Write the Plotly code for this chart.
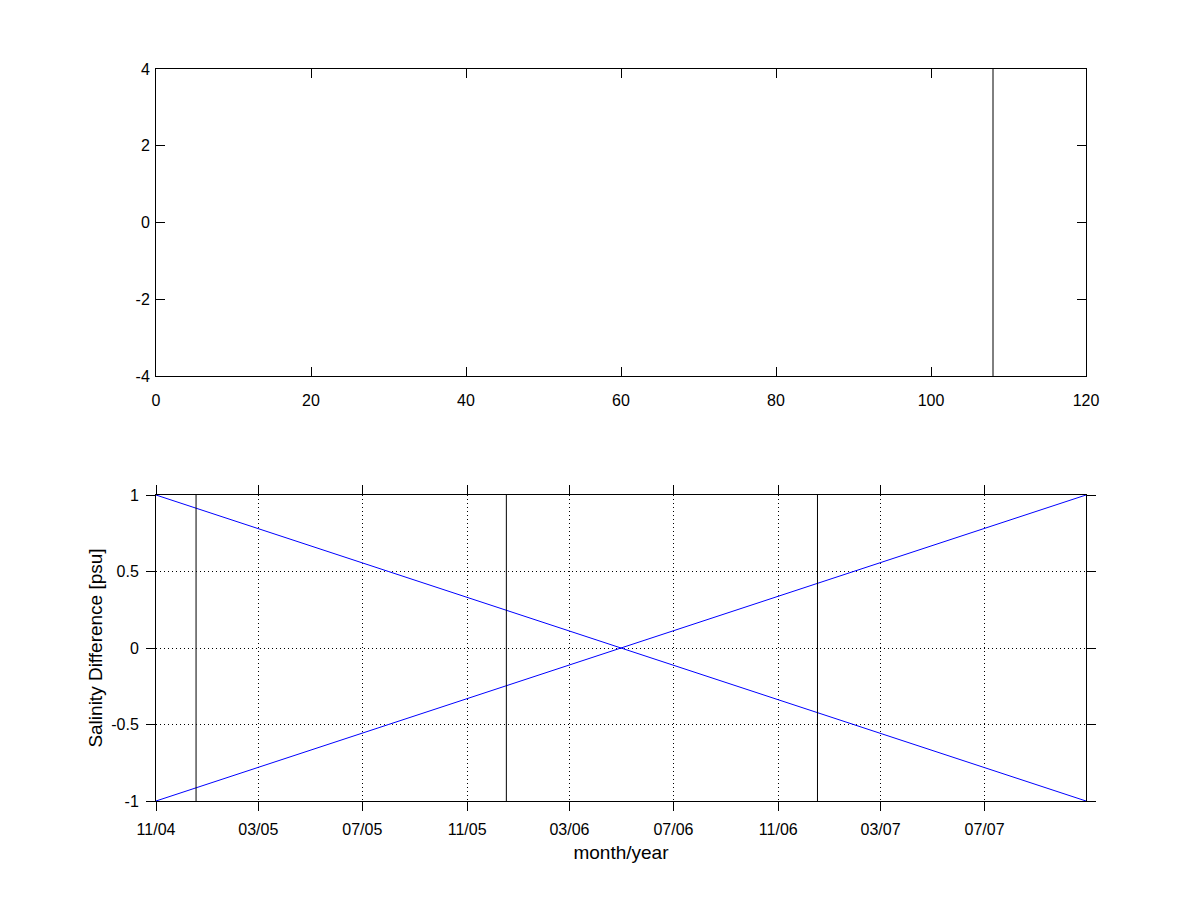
import plotly.graph_objects as go

# Top panel data
top_vline_x = [108, 108]
top_vline_y = [-4, 4]
top_xticks = [0, 20, 40, 60, 80, 100, 120]
top_yticks = [-4, -2, 0, 2, 4]
top_ytext = ["-4", "-2", "0", "2", "4"]

# Bottom panel data
dates_range = ["2004-11-01", "2007-10-28"]
line_down = [1, -1]
line_up = [-1, 1]
vline_dates = ["2004-12-18", "2005-12-17", "2006-12-17"]
vline_y = [-1, 1]

tick_dates = ["2004-11-01", "2005-03-01", "2005-07-01", "2005-11-01", "2006-03-01",
              "2006-07-01", "2006-11-01", "2007-03-01", "2007-07-01"]
tick_labels = ["11/04", "03/05", "07/05", "11/05", "03/06", "07/06", "11/06", "03/07", "07/07"]
bot_yticks = [-1, -0.5, 0, 0.5, 1]
bot_ytext = ["-1", "-0.5", "0", "0.5", "1"]

font = dict(family="Liberation Sans, Arial, sans-serif", size=16, color="black")
title_font = dict(family="Liberation Sans, Arial, sans-serif", size=19, color="black")

fig = go.Figure()

# top panel
fig.add_trace(go.Scatter(x=top_vline_x, y=top_vline_y, mode="lines",
                         line=dict(color="black", width=1), xaxis="x", yaxis="y",
                         showlegend=False, hoverinfo="skip"))

# bottom panel
fig.add_trace(go.Scatter(x=dates_range, y=line_down, mode="lines",
                         line=dict(color="blue", width=1), xaxis="x2", yaxis="y2",
                         showlegend=False))
fig.add_trace(go.Scatter(x=dates_range, y=line_up, mode="lines",
                         line=dict(color="blue", width=1), xaxis="x2", yaxis="y2",
                         showlegend=False))
for d in vline_dates:
    fig.add_trace(go.Scatter(x=[d, d], y=vline_y, mode="lines",
                             line=dict(color="black", width=1), xaxis="x2", yaxis="y2",
                             showlegend=False, hoverinfo="skip"))

OFF = 8  # page body margin
x0, x1 = (156 - OFF) / 1200, (1086 - OFF) / 1200
top_dom = [(900 - (375 - 7)) / 900, (900 - (68 - 7)) / 900]
bot_dom = [(900 - (800 - 7)) / 900, (900 - (494 - 7)) / 900]

axis_common = dict(showline=True, linecolor="black", linewidth=1, mirror="ticks",
                   zeroline=False, tickcolor="black", tickwidth=1, ticklen=9,
                   tickfont=font, automargin=False)
grid = dict(showgrid=True, gridcolor="black", griddash="1px,3px", gridwidth=1)

fig.update_layout(
    width=1200, height=900,
    margin=dict(l=0, r=0, t=0, b=0),
    paper_bgcolor="white", plot_bgcolor="white",
    font=font,
    showlegend=False,
    xaxis=dict(domain=[x0, x1], anchor="y", range=[0, 120], tickvals=top_xticks,
               ticks="inside", showgrid=False, ticklabelstandoff=10, **axis_common),
    yaxis=dict(domain=top_dom, anchor="x", range=[-4, 4], tickvals=top_yticks,
               ticktext=top_ytext, ticks="inside", showgrid=False, ticklabelstandoff=2,
               **axis_common),
    xaxis2=dict(domain=[x0, x1], anchor="y2", type="date", range=dates_range,
                tickvals=tick_dates, ticktext=tick_labels, ticks="outside",
                ticklabelstandoff=5,
                title=dict(text="month/year", font=title_font, standoff=8),
                **grid, **axis_common),
    yaxis2=dict(domain=bot_dom, anchor="x2", range=[-1, 1], tickvals=bot_yticks,
                ticktext=bot_ytext, ticks="outside", ticklabelstandoff=4,
                title=dict(text="Salinity Difference [psu]", font=title_font, standoff=3),
                **grid, **axis_common),
)

fig.write_html("out.html")
